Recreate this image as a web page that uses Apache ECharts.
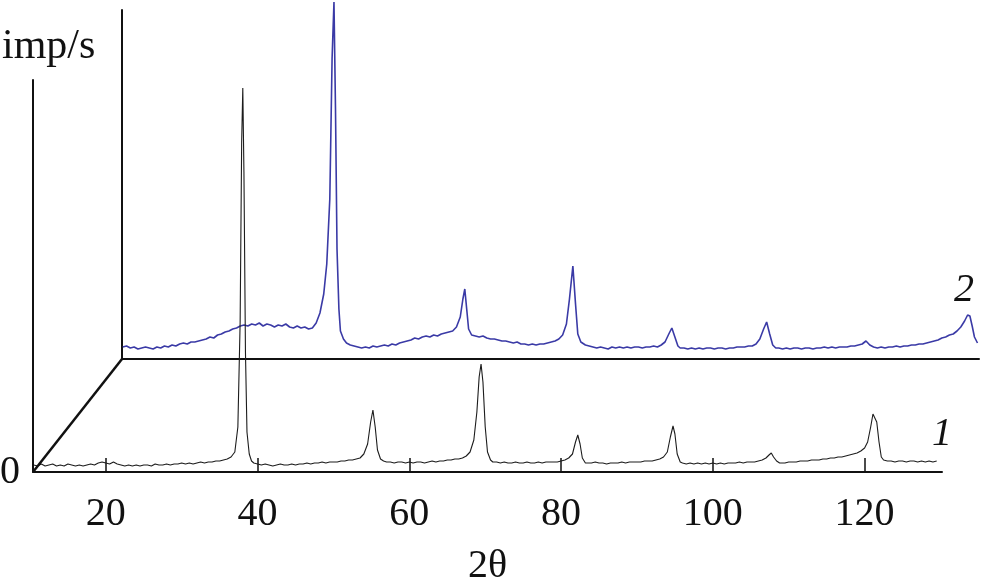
<!DOCTYPE html>
<html>
<head>
<meta charset="utf-8">
<script src="https://cdn.jsdelivr.net/npm/echarts@6/dist/echarts.min.js"></script>
<style>html,body{margin:0;padding:0;background:#fff}#c{width:981px;height:588px}</style>
</head>
<body>
<div id="c"></div>
<script>
// 2θ tick labels on the front axis
var tickValues = [20, 40, 60, 80, 100, 120];
var xMin = 10.4, xMax1 = 130.2, xMax2 = 123.4;
var yMax1 = 392, yMax2 = 349;

// Pattern 1 (front, black): [2θ, intensity]
var pattern1 = [
[10.5,7],[11,6],[11.5,8],[12,6],[12.5,7],[13,8],[13.5,6],[14,7],[14.5,6],[15,8],[15.5,7],[16,6],[16.5,7],[17,6],[17.5,7],[18,8],[18.5,7],[19,9],[19.5,10],[20,9],[20.5,8],[21,10],[21.5,8],[22,7],[22.5,6],[23,7],[23.5,6],[24,7],[24.5,6],[25,7],[25.5,7],[26,6],[26.5,8],[27,7],[27.5,7],[28,8],[28.5,7],[29,8],[29.5,8],[30,9],[30.5,8],[31,9],[31.5,8],[32,9],[32.5,10],[33,9],[33.5,10],[34,10],[34.5,11],[35,11],[35.5,12],[36,13],[36.5,15],[37,20],[37.4,45],[37.7,150],[37.9,330],[38.05,384],[38.2,300],[38.4,120],[38.6,40],[38.9,18],[39.2,11],[39.5,9],
[40,8],[40.5,7],[41,8],[41.5,7],[42,6],[42.5,7],[43,8],[43.5,7],[44,7],[44.5,8],[45,7],[45.5,8],[46,8],[46.5,9],[47,8],[47.5,9],[48,9],[48.5,10],[49,9],[49.5,10],[50,10],[50.5,10],[51,11],[51.5,11],[52,12],[52.5,12],[53,13],[53.5,14],[54,18],[54.5,28],[54.9,50],[55.2,62],[55.5,45],[55.8,22],[56.2,13],[56.6,11],[57,10],[57.5,10],[58,9],[58.5,10],[59,10],[59.5,9],
[60,10],[60.5,9],[61,10],[61.5,10],[62,9],[62.5,10],[63,11],[63.5,10],[64,11],[64.5,11],[65,12],[65.5,12],[66,13],[66.5,13],[67,14],[67.5,16],[68,20],[68.5,32],[68.9,60],[69.2,95],[69.45,108],[69.7,90],[70,45],[70.3,20],[70.7,12],[71,10],[71.5,10],[72,9],[72.5,10],[73,9],[73.5,9],[74,10],[74.5,9],[75,9],[75.5,10],[76,9],[76.5,9],[77,10],[77.5,9],[78,10],[78.5,10],[79,10],[79.5,10],
[80,11],[80.5,12],[81,14],[81.5,18],[81.9,30],[82.2,37],[82.5,28],[82.8,14],[83.2,9],[83.5,9],[84,9],[84.5,10],[85,9],[85.5,9],[86,8],[86.5,9],[87,9],[87.5,9],[88,10],[88.5,9],[89,10],[89.5,10],[90,10],[90.5,10],[91,11],[91.5,11],[92,11],[92.5,12],[93,13],[93.5,15],[94,20],[94.4,35],[94.75,46],[95,38],[95.3,18],[95.7,10],[96,9],[96.5,8],[97,9],[97.5,8],[98,9],[98.5,8],[99,9],[99.5,8],
[100,9],[100.5,8],[101,9],[101.5,8],[102,9],[102.5,9],[103,9],[103.5,10],[104,9],[104.5,10],[105,10],[105.5,10],[106,11],[106.5,12],[107,14],[107.4,17],[107.7,19],[108,15],[108.4,11],[108.8,9],[109,9],[109.5,9],[110,10],[110.5,10],[111,10],[111.5,11],[112,11],[112.5,11],[113,12],[113.5,12],[114,12],[114.5,13],[115,13],[115.5,14],[116,14],[116.5,15],[117,15],[117.5,16],[118,17],[118.5,18],[119,19],[119.5,21],
[120,24],[120.4,30],[120.8,45],[121.1,58],[121.3,59],[121.6,50],[121.9,30],[122.2,15],[122.5,12],[123,11],[123.5,11],[124,10],[124.5,11],[125,11],[125.5,10],[126,11],[126.5,11],[127,10],[127.5,11],[128,10],[128.5,11],[129,10],[129.5,11]
];

// Pattern 2 (back, blue): [2θ, intensity]
var pattern2 = [
[10.5,12],[11,13],[11.5,11],[12,12],[12.5,10],[13,11],[13.5,12],[14,11],[14.5,10],[15,12],[15.5,11],[16,13],[16.5,12],[17,14],[17.5,13],[18,15],[18.5,16],[19,15],[19.5,17],[20,17],[20.5,18],[21,19],[21.5,20],[22,22],[22.5,21],[23,24],[23.5,25],[24,27],[24.5,28],[25,30],[25.5,31],[26,33],[26.5,34],[27,33],[27.5,35],[28,34],[28.5,36],[29,33],[29.5,35],[30,34],[30.5,32],[31,34],[31.5,33],[32,35],[32.5,32],[33,31],[33.5,33],[34,31],[34.5,32],[35,30],[35.5,31],[36,36],[36.5,46],[37,65],[37.4,95],[37.8,160],[38.1,300],[38.35,357],[38.55,250],[38.75,110],[39,50],[39.2,28],[39.6,20],
[40,16],[40.5,14],[41,13],[41.5,12],[42,11],[42.5,12],[43,11],[43.5,13],[44,12],[44.5,13],[45,14],[45.5,13],[46,15],[46.5,14],[47,16],[47.5,17],[48,18],[48.5,19],[49,21],[49.5,20],[50,22],[50.5,23],[51,22],[51.5,24],[52,23],[52.5,25],[53,26],[53.5,27],[54,28],[54.5,32],[55,42],[55.35,60],[55.6,70],[55.85,50],[56.1,30],[56.5,24],[57,23],[57.5,22],[58,23],[58.5,21],[59,20],[59.5,20],
[60,19],[60.5,18],[61,18],[61.5,17],[62,16],[62.5,17],[63,15],[63.5,15],[64,14],[64.5,15],[65,14],[65.5,15],[66,15],[66.5,16],[67,17],[67.5,18],[68,20],[68.5,24],[69,35],[69.4,60],[69.85,93],[70.2,55],[70.5,25],[70.9,17],[71.5,14],[72,13],[72.5,12],[73,11],[73.5,12],[74,11],[74.5,10],[75,12],[75.5,11],[76,12],[76.5,11],[77,12],[77.5,11],[78,12],[78.5,12],[79,11],[79.5,12],
[80,12],[80.5,13],[81,12],[81.5,14],[82,17],[82.5,25],[82.9,31],[83.3,22],[83.7,13],[84,11],[84.5,11],[85,10],[85.5,11],[86,10],[86.5,11],[87,10],[87.5,11],[88,11],[88.5,10],[89,11],[89.5,11],[90,10],[90.5,11],[91,11],[91.5,12],[92,12],[92.5,12],[93,13],[93.5,13],[94,15],[94.5,20],[95,30],[95.4,37],[95.8,25],[96.2,14],[96.6,11],[97,11],[97.5,10],[98,11],[98.5,10],[99,11],[99.5,11],
[100,10],[100.5,11],[101,11],[101.5,10],[102,11],[102.5,11],[103,12],[103.5,11],[104,12],[104.5,11],[105,12],[105.5,12],[106,12],[106.5,13],[107,13],[107.5,14],[108,15],[108.5,18],[109,14],[109.5,12],[110,11],[110.5,12],[111,11],[111.5,12],[112,12],[112.5,13],[113,12],[113.5,13],[114,13],[114.5,14],[115,14],[115.5,15],[116,15],[116.5,16],[117,17],[117.5,18],[118,19],[118.5,21],[119,22],[119.5,24],
[120,25],[120.5,28],[121,32],[121.5,38],[121.9,44],[122.2,43],[122.5,33],[122.8,22],[123.2,16]
];

var FONT = '"Liberation Serif", "Times New Roman", serif';
var chart = echarts.init(document.getElementById('c'), null, {renderer: 'canvas'});
var axisLine = {show: true, onZero: false, lineStyle: {color: '#111', width: 2}};

chart.setOption({
  animation: false,
  backgroundColor: '#fff',
  grid: [
    {left: 33, right: 39, top: 80, bottom: 116, containLabel: false, outerBoundsMode: 'none'},
    {left: 122, right: 2, top: 10, bottom: 229, containLabel: false, outerBoundsMode: 'none'}
  ],
  xAxis: [
    {
      gridIndex: 0, type: 'value', min: xMin, max: xMax1,
      axisLine: axisLine,
      axisTick: {show: true, inside: true, length: 14, customValues: tickValues, lineStyle: {color: '#111', width: 1.5}},
      axisLabel: {show: true, customValues: tickValues, margin: 22, fontFamily: FONT, fontSize: 40, color: '#111'},
      splitLine: {show: false},
      name: '2θ', nameLocation: 'middle', nameGap: 74,
      nameTextStyle: {fontFamily: FONT, fontSize: 40, color: '#111'}
    },
    {
      gridIndex: 1, type: 'value', min: xMin, max: xMax2,
      axisLine: axisLine, axisTick: {show: false}, axisLabel: {show: false}, splitLine: {show: false}
    }
  ],
  yAxis: [
    {
      gridIndex: 0, type: 'value', min: 0, max: yMax1,
      axisLine: axisLine, axisTick: {show: false},
      axisLabel: {show: true, customValues: [0], margin: 13, fontFamily: FONT, fontSize: 40, color: '#111'},
      splitLine: {show: false}
    },
    {
      gridIndex: 1, type: 'value', min: 0, max: yMax2,
      axisLine: axisLine, axisTick: {show: false}, axisLabel: {show: false}, splitLine: {show: false}
    }
  ],
  series: [
    {
      type: 'line', name: '1', xAxisIndex: 0, yAxisIndex: 0, data: pattern1,
      showSymbol: false, clip: false, lineStyle: {color: '#1c1c1c', width: 1.1}, z: 3
    },
    {
      type: 'line', name: '2', xAxisIndex: 1, yAxisIndex: 1, data: pattern2,
      showSymbol: false, clip: false, lineStyle: {color: '#3a3aa6', width: 1.6}, z: 2
    }
  ]
});

var o1 = chart.convertToPixel({xAxisIndex: 0, yAxisIndex: 0}, [xMin, 0]);
var o2 = chart.convertToPixel({xAxisIndex: 1, yAxisIndex: 1}, [xMin, 0]);
chart.setOption({
  graphic: [
    {type: 'line', shape: {x1: o1[0], y1: o1[1], x2: o2[0], y2: o2[1]}, style: {stroke: '#111', lineWidth: 2.5}, z: 10},
    {type: 'text', left: 2, top: 26, style: {text: 'imp/s', font: '42px ' + FONT, fill: '#111'}},
    {type: 'text', left: 932, top: 414, style: {text: '1', font: 'italic 40px ' + FONT, fill: '#111'}},
    {type: 'text', left: 954, top: 270, style: {text: '2', font: 'italic 40px ' + FONT, fill: '#111'}}
  ]
});
</script>
</body>
</html>
